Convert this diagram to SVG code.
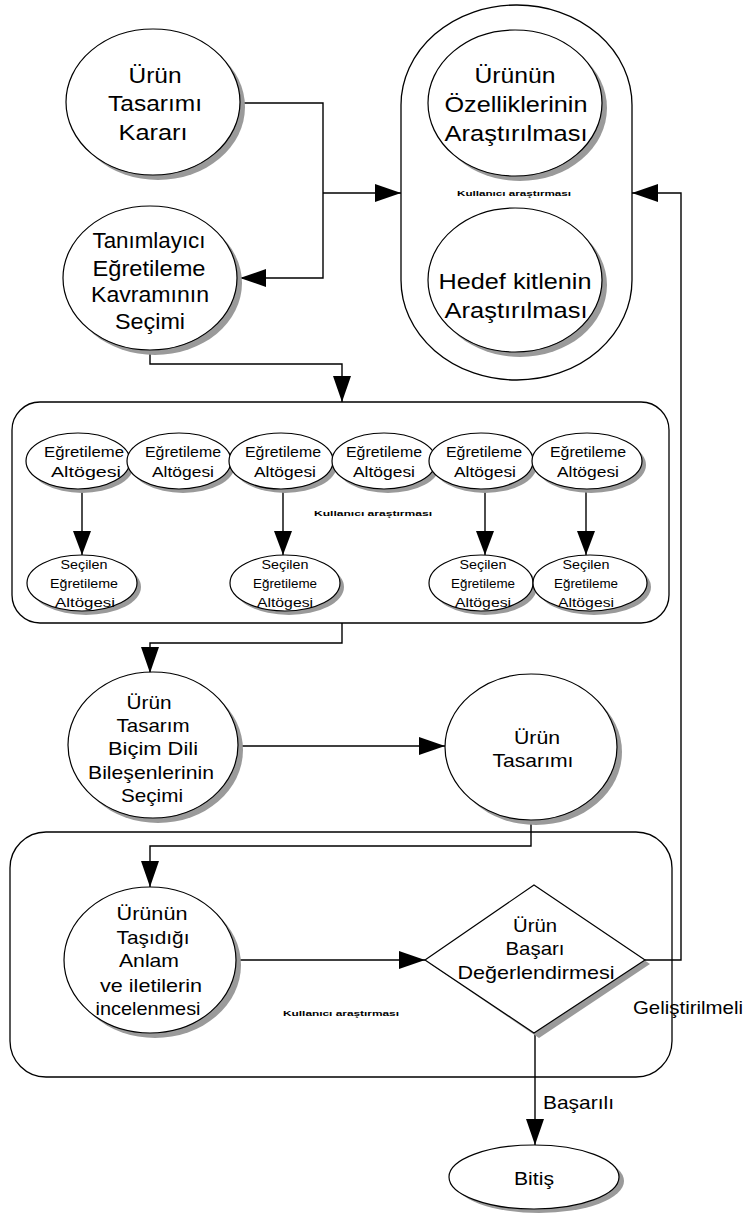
<svg xmlns="http://www.w3.org/2000/svg" width="744" height="1218" viewBox="0 0 744 1218">
<style>
.n{fill:#fff;stroke:#000;stroke-width:1.2}
.sh{fill:#9a9a9a;stroke:none}
.box{fill:none;stroke:#000;stroke-width:1.3}
.c{fill:none;stroke:#000;stroke-width:1.4}
.t{font-family:"Liberation Sans",Arial,sans-serif;fill:#000;text-anchor:middle}
.big{font-size:22px}
.mid{font-size:19px}
.sm{font-size:14px}
.xs{font-size:13px}
.tiny{font-family:"Liberation Sans",Arial,sans-serif;font-size:8px;font-weight:bold;fill:#000}
.lab{font-family:"Liberation Sans",Arial,sans-serif;font-size:19px;fill:#000}
</style>
<defs>
<marker id="arr" viewBox="0 0 26 18" refX="26" refY="9" markerWidth="26" markerHeight="18" orient="auto" markerUnits="userSpaceOnUse"><path d="M0,0 L26,9 L0,18 z" fill="#000"/></marker>
<marker id="arrs" viewBox="0 0 24 18" refX="24" refY="9" markerWidth="24" markerHeight="18" orient="auto" markerUnits="userSpaceOnUse"><path d="M0,0 L24,9 L0,18 z" fill="#000"/></marker>
</defs>

<!-- containers -->
<g id="container-top">
<rect class="box" x="401" y="5" width="231" height="375" rx="115" ry="100"/>
<text class="tiny" x="457" y="196" textLength="114" lengthAdjust="spacingAndGlyphs">Kullanıcı araştırması</text>
</g>
<g id="container-mid">
<rect class="box" x="12" y="402" width="657" height="221" rx="28" ry="28"/>
<text class="tiny" x="314" y="516" textLength="118" lengthAdjust="spacingAndGlyphs">Kullanıcı araştırması</text>
</g>
<g id="container-bottom">
<rect class="box" x="10" y="832" width="662" height="245" rx="36" ry="36"/>
<text class="tiny" x="283" y="1016" textLength="116" lengthAdjust="spacingAndGlyphs">Kullanıcı araştırması</text>
</g>

<!-- connectors -->
<g id="connectors">
<path class="c" d="M240,103 H323 V278 H240" marker-end="url(#arr)"/>
<path class="c" d="M323,193 H401" marker-end="url(#arr)"/>
<path class="c" d="M150,350 V364 H342 V402" marker-end="url(#arr)"/>
<path class="c" d="M82,490 V555" marker-end="url(#arrs)"/>
<path class="c" d="M283,490 V555" marker-end="url(#arrs)"/>
<path class="c" d="M485,490 V555" marker-end="url(#arrs)"/>
<path class="c" d="M586,490 V555" marker-end="url(#arrs)"/>
<path class="c" d="M342,623 V643 H150 V673" marker-end="url(#arr)"/>
<path class="c" d="M238,746 H445" marker-end="url(#arr)"/>
<path class="c" d="M531,818 V846 H150 V887" marker-end="url(#arr)"/>
<path class="c" d="M236,960 H425" marker-end="url(#arr)"/>
<path class="c" d="M645,960 H681 V193 H632" marker-end="url(#arr)"/>
<path class="c" d="M535,1033 V1145" marker-end="url(#arr)"/>
<text class="lab" x="543" y="1109" textLength="71" lengthAdjust="spacingAndGlyphs">Başarılı</text>
<text class="lab" x="633" y="1014" textLength="110" lengthAdjust="spacingAndGlyphs">Geliştirilmeli</text>
</g>

<!-- top nodes -->
<g id="urun-tasarimi-karari">
<ellipse class="sh" cx="158" cy="107" rx="87" ry="73"/>
<ellipse class="n" cx="153" cy="102" rx="87" ry="73"/>
<text class="t big" x="155" y="83" textLength="53" lengthAdjust="spacingAndGlyphs">Ürün</text>
<text class="t big" x="155" y="111" textLength="94" lengthAdjust="spacingAndGlyphs">Tasarımı</text>
<text class="t big" x="153" y="140" textLength="69" lengthAdjust="spacingAndGlyphs">Kararı</text>
</g>
<g id="tanimlayici">
<ellipse class="sh" cx="155" cy="283" rx="87" ry="72"/>
<ellipse class="n" cx="150" cy="278" rx="87" ry="72"/>
<text class="t big" x="149" y="248" textLength="113" lengthAdjust="spacingAndGlyphs">Tanımlayıcı</text>
<text class="t big" x="149" y="276" textLength="113" lengthAdjust="spacingAndGlyphs">Eğretileme</text>
<text class="t big" x="150" y="302" textLength="118" lengthAdjust="spacingAndGlyphs">Kavramının</text>
<text class="t big" x="150" y="329" textLength="70" lengthAdjust="spacingAndGlyphs">Seçimi</text>
</g>
<g id="ozellikler">
<ellipse class="sh" cx="520" cy="108" rx="87" ry="73"/>
<ellipse class="n" cx="515" cy="103" rx="87" ry="73"/>
<text class="t big" x="515" y="83" textLength="81" lengthAdjust="spacingAndGlyphs">Ürünün</text>
<text class="t big" x="516" y="112" textLength="143" lengthAdjust="spacingAndGlyphs">Özelliklerinin</text>
<text class="t big" x="516" y="141" textLength="143" lengthAdjust="spacingAndGlyphs">Araştırılması</text>
</g>
<g id="hedef-kitle">
<ellipse class="sh" cx="520" cy="285" rx="87" ry="72"/>
<ellipse class="n" cx="515" cy="280" rx="87" ry="72"/>
<text class="t big" x="515" y="289" textLength="153" lengthAdjust="spacingAndGlyphs">Hedef kitlenin</text>
<text class="t big" x="516" y="318" textLength="143" lengthAdjust="spacingAndGlyphs">Araştırılması</text>
</g>

<!-- sub-element nodes -->
<g id="alt1">
<ellipse class="sh" cx="82" cy="465" rx="52" ry="28"/>
<ellipse class="n" cx="78" cy="461" rx="52" ry="28"/>
<text class="t sm" x="84" y="457" textLength="80" lengthAdjust="spacingAndGlyphs">Eğretileme</text>
<text class="t sm" x="86" y="477" textLength="70" lengthAdjust="spacingAndGlyphs">Altögesi</text>
</g>
<g id="alt2">
<ellipse class="sh" cx="183" cy="465" rx="52" ry="28"/>
<ellipse class="n" cx="179" cy="461" rx="52" ry="28"/>
<text class="t sm" x="183" y="457" textLength="76" lengthAdjust="spacingAndGlyphs">Eğretileme</text>
<text class="t sm" x="183" y="477" textLength="62" lengthAdjust="spacingAndGlyphs">Altögesi</text>
</g>
<g id="alt3">
<ellipse class="sh" cx="285" cy="465" rx="52" ry="28"/>
<ellipse class="n" cx="281" cy="461" rx="52" ry="28"/>
<text class="t sm" x="283" y="457" textLength="76" lengthAdjust="spacingAndGlyphs">Eğretileme</text>
<text class="t sm" x="285" y="477" textLength="62" lengthAdjust="spacingAndGlyphs">Altögesi</text>
</g>
<g id="alt4">
<ellipse class="sh" cx="388" cy="465" rx="52" ry="28"/>
<ellipse class="n" cx="384" cy="461" rx="52" ry="28"/>
<text class="t sm" x="384" y="457" textLength="76" lengthAdjust="spacingAndGlyphs">Eğretileme</text>
<text class="t sm" x="384" y="477" textLength="62" lengthAdjust="spacingAndGlyphs">Altögesi</text>
</g>
<g id="alt5">
<ellipse class="sh" cx="485" cy="465" rx="52" ry="28"/>
<ellipse class="n" cx="481" cy="461" rx="52" ry="28"/>
<text class="t sm" x="484" y="457" textLength="76" lengthAdjust="spacingAndGlyphs">Eğretileme</text>
<text class="t sm" x="485" y="477" textLength="62" lengthAdjust="spacingAndGlyphs">Altögesi</text>
</g>
<g id="alt6">
<ellipse class="sh" cx="591" cy="465" rx="55" ry="28"/>
<ellipse class="n" cx="587" cy="461" rx="55" ry="28"/>
<text class="t sm" x="588" y="457" textLength="76" lengthAdjust="spacingAndGlyphs">Eğretileme</text>
<text class="t sm" x="588" y="477" textLength="62" lengthAdjust="spacingAndGlyphs">Altögesi</text>
</g>
<g id="secilen1">
<ellipse class="sh" cx="86" cy="587" rx="55" ry="28"/>
<ellipse class="n" cx="82" cy="583" rx="55" ry="28"/>
<text class="t xs" x="84" y="569" textLength="47" lengthAdjust="spacingAndGlyphs">Seçilen</text>
<text class="t xs" x="84" y="588" textLength="68" lengthAdjust="spacingAndGlyphs">Eğretileme</text>
<text class="t xs" x="85" y="607" textLength="60" lengthAdjust="spacingAndGlyphs">Altögesi</text>
</g>
<g id="secilen2">
<ellipse class="sh" cx="289" cy="587" rx="55" ry="28"/>
<ellipse class="n" cx="285" cy="583" rx="55" ry="28"/>
<text class="t xs" x="285" y="569" textLength="47" lengthAdjust="spacingAndGlyphs">Seçilen</text>
<text class="t xs" x="285" y="588" textLength="64" lengthAdjust="spacingAndGlyphs">Eğretileme</text>
<text class="t xs" x="285" y="607" textLength="56" lengthAdjust="spacingAndGlyphs">Altögesi</text>
</g>
<g id="secilen3">
<ellipse class="sh" cx="485" cy="587" rx="52" ry="28"/>
<ellipse class="n" cx="481" cy="583" rx="52" ry="28"/>
<text class="t xs" x="483" y="569" textLength="47" lengthAdjust="spacingAndGlyphs">Seçilen</text>
<text class="t xs" x="483" y="588" textLength="64" lengthAdjust="spacingAndGlyphs">Eğretileme</text>
<text class="t xs" x="483" y="607" textLength="56" lengthAdjust="spacingAndGlyphs">Altögesi</text>
</g>
<g id="secilen4">
<ellipse class="sh" cx="594" cy="587" rx="57" ry="28"/>
<ellipse class="n" cx="590" cy="583" rx="57" ry="28"/>
<text class="t xs" x="586" y="569" textLength="47" lengthAdjust="spacingAndGlyphs" fill="#444">Seçilen</text>
<text class="t xs" x="586" y="588" textLength="64" lengthAdjust="spacingAndGlyphs" fill="#444">Eğretileme</text>
<text class="t xs" x="586" y="607" textLength="56" lengthAdjust="spacingAndGlyphs" fill="#444">Altögesi</text>
</g>

<!-- middle nodes -->
<g id="bicim-dili">
<ellipse class="sh" cx="158" cy="750" rx="85" ry="73"/>
<ellipse class="n" cx="153" cy="745" rx="85" ry="73"/>
<text class="t mid" x="149" y="709" textLength="45" lengthAdjust="spacingAndGlyphs">Ürün</text>
<text class="t mid" x="153" y="732" textLength="73" lengthAdjust="spacingAndGlyphs">Tasarım</text>
<text class="t mid" x="153" y="755" textLength="90" lengthAdjust="spacingAndGlyphs">Biçim Dili</text>
<text class="t mid" x="151" y="779" textLength="126" lengthAdjust="spacingAndGlyphs">Bileşenlerinin</text>
<text class="t mid" x="152" y="802" textLength="62" lengthAdjust="spacingAndGlyphs">Seçimi</text>
</g>
<g id="urun-tasarimi">
<ellipse class="sh" cx="536" cy="752" rx="86" ry="73"/>
<ellipse class="n" cx="531" cy="747" rx="86" ry="73"/>
<text class="t mid" x="537" y="744" textLength="46" lengthAdjust="spacingAndGlyphs">Ürün</text>
<text class="t mid" x="533" y="767" textLength="81" lengthAdjust="spacingAndGlyphs">Tasarımı</text>
</g>

<!-- bottom nodes -->
<g id="tasidigi-anlam">
<ellipse class="sh" cx="155" cy="965" rx="86" ry="73"/>
<ellipse class="n" cx="150" cy="960" rx="86" ry="73"/>
<text class="t mid" x="152" y="920" textLength="71" lengthAdjust="spacingAndGlyphs">Ürünün</text>
<text class="t mid" x="153" y="944" textLength="73" lengthAdjust="spacingAndGlyphs">Taşıdığı</text>
<text class="t mid" x="149" y="967" textLength="60" lengthAdjust="spacingAndGlyphs">Anlam</text>
<text class="t mid" x="151" y="992" textLength="102" lengthAdjust="spacingAndGlyphs">ve iletilerin</text>
<text class="t mid" x="148" y="1015" textLength="105" lengthAdjust="spacingAndGlyphs">incelenmesi</text>
</g>
<g id="basari-degerlendirmesi">
<polygon class="sh" points="539,889 650,964 539,1038 430,964"/>
<polygon class="n" points="534,885 645,960 534,1033 425,960"/>
<text class="t mid" x="535" y="932" textLength="44" lengthAdjust="spacingAndGlyphs">Ürün</text>
<text class="t mid" x="535" y="955" textLength="59" lengthAdjust="spacingAndGlyphs">Başarı</text>
<text class="t mid" x="536" y="979" textLength="157" lengthAdjust="spacingAndGlyphs">Değerlendirmesi</text>
</g>
<g id="bitis">
<ellipse class="sh" cx="539" cy="1181" rx="85" ry="32"/>
<ellipse class="n" cx="534" cy="1177" rx="85" ry="32"/>
<text class="t mid" x="534" y="1185" textLength="40" lengthAdjust="spacingAndGlyphs">Bitiş</text>
</g>
</svg>
